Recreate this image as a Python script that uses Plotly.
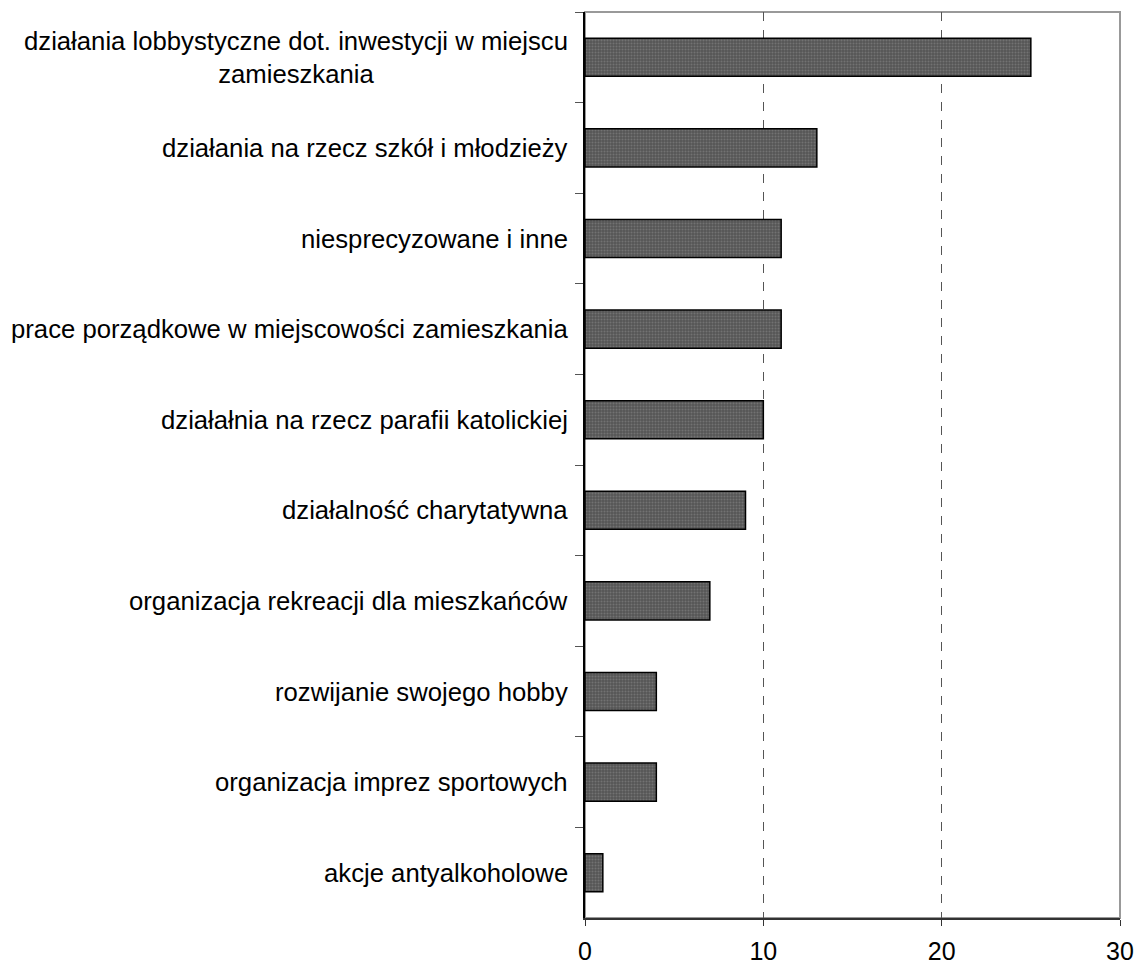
import plotly.graph_objects as go

categories = [
    "działania lobbystyczne dot. inwestycji w miejscu<br>zamieszkania",
    "działania na rzecz szkół i młodzieży",
    "niesprecyzowane i inne",
    "prace porządkowe w miejscowości zamieszkania",
    "działałnia na rzecz parafii katolickiej",
    "działalność charytatywna",
    "organizacja rekreacji dla mieszkańców",
    "rozwijanie swojego hobby",
    "organizacja imprez sportowych",
    "akcje antyalkoholowe",
]
values = [25, 13, 11, 11, 10, 9, 7, 4, 4, 1]
x_ticks = [0, 10, 20, 30]

FONT = "Liberation Sans, Arial, sans-serif"

fig = go.Figure()
fig.add_trace(go.Bar(
    x=values,
    y=categories,
    orientation="h",
    width=0.42,
    marker=dict(
        color="#555555",
        line=dict(color="#000000", width=1.5),
        pattern=dict(shape=".", fgcolor="#8f8f8f", bgcolor="#555555", size=3, solidity=0.35),
    ),
    showlegend=False,
))

annotations = []
for c in categories:
    annotations.append(dict(
        x=0, xref="paper", y=c, yref="y",
        text=c, showarrow=False, xanchor="right", yanchor="middle",
        xshift=-15, align="center",
        font=dict(family=FONT, size=25.7, color="#000000"),
    ))

fig.update_layout(
    width=1136, height=956,
    margin=dict(l=577, r=24, t=4, b=46, autoexpand=False),
    paper_bgcolor="white", plot_bgcolor="white",
    font=dict(family=FONT, size=25, color="#000000"),
    annotations=annotations,
    shapes=[dict(type="rect", xref="paper", yref="paper", x0=0, x1=1, y0=0, y1=1,
                 line=dict(color="#999999", width=2), layer="below")],
    bargap=0.58,
)
fig.update_xaxes(
    range=[0, 30], tickvals=x_ticks, ticktext=[str(v) for v in x_ticks],
    showgrid=True, gridcolor="#555555", griddash="dash", gridwidth=1,
    zeroline=False, showline=True, linecolor="#333333", linewidth=1.5,
    ticks="outside", ticklen=6, tickcolor="#333333",
    tickfont=dict(family=FONT, size=25, color="#000000"),
    ticklabelstandoff=4, automargin=False,
)
fig.update_yaxes(
    autorange="reversed", showticklabels=False, automargin=False,
    showgrid=False, zeroline=False, showline=True, linecolor="#000000", linewidth=1.5,
    ticks="outside", tickson="boundaries", ticklen=8, tickcolor="#555555",
)

fig.write_html("out.html")
